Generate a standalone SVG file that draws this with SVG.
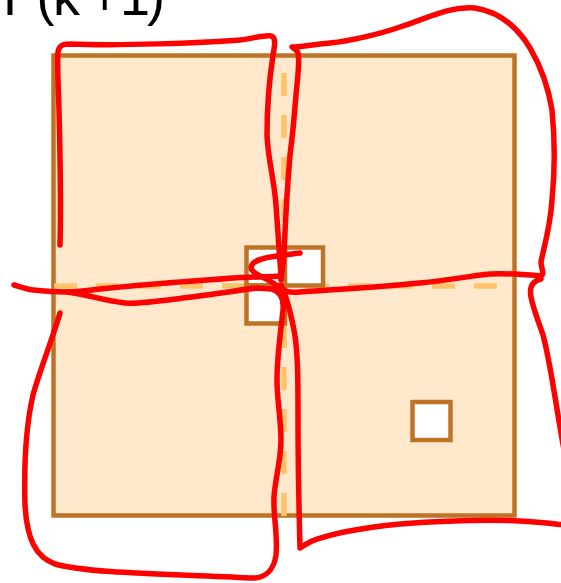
<svg xmlns="http://www.w3.org/2000/svg" width="561" height="583" viewBox="0 0 561 583">
<style>
.box{fill:#FFE8CC;stroke:#BF7326;stroke-width:4.5}
.cell{fill:#FFFFFF;stroke:#BF7326;stroke-width:4.5}
.dash{stroke:#FFC46A;stroke-width:5.5;stroke-dasharray:23 19;fill:none}
.ink{fill:none;stroke:#FF0000;stroke-width:5.5;stroke-linecap:round;stroke-linejoin:round}
.lbl{font-family:"Liberation Sans",Arial,sans-serif;font-size:54px;fill:#000}
</style>
<rect width="561" height="583" fill="#FFFFFF"/>
<text class="lbl" x="-6.5 36.5 53 89 120 147" y="15">T(k+1)</text>
<g id="region">
<rect class="box" x="53.5" y="55.5" width="461" height="460"/>
<line class="dash" x1="284" y1="73" x2="284" y2="516"/>
<line class="dash" x1="54" y1="286" x2="497" y2="286"/>
</g>
<g id="cell-a"><rect class="cell" x="246.5" y="247.5" width="38.5" height="38"/></g>
<g id="cell-b"><rect class="cell" x="285" y="247.5" width="38" height="38"/></g>
<g id="cell-c"><rect class="cell" x="246.5" y="285.5" width="38.5" height="38"/></g>
<g id="cell-d"><rect class="cell" x="412.5" y="402" width="38" height="38"/></g>
<g id="connectors">
<path class="ink" d="M60,245 C61,210 60,150 59,110 C58,80 57,60 58,52 C59,46 62,44 70,44 C120,46 200,43 240,40 C255,38 265,35 271,36 C276,37 275,45 273,55 C270,75 267,105 267,135 C268,160 274,178 276,205 C278,235 280,260 281,276 C270,277 250,277 233,278 C210,280 190,281 167,283 C140,285 120,287 100,289 C85,291 75,292 67,292 C55,292 42,291 33,290 C25,289 18,286 14,285"/>
<path class="ink" d="M60,313 C52,340 40,370 33,395 C25,430 24,470 25,505 C27,540 36,557 55,564 C90,574 180,574 250,578 C265,579 274,570 276,555 C278,535 273,515 274,497 C275,480 281,460 281,440 C281,420 277,400 277,380 C277,355 281,330 283,310 C284,300 282,292 272,289 L257,288 C240,290 210,295 183,298 C160,301 140,304 125,303 C105,301 85,294 67,292"/>
<path class="ink" d="M300,253 C285,255 270,256 262,259 C251,262 248,268 255,273 C263,278 272,281 280,288 C284,292 290,293 300,292 C330,290 380,287 420,283 C450,280 470,276 490,274 C510,273 530,275 541,276 C545,274 541,268 541,262 C543,250 550,230 552,200 C555,170 555,140 552,110 C548,85 540,65 530,48 C518,28 500,12 475,8 C450,6 430,17 400,27 C380,34 350,41 330,43 C310,45 298,47 292,47 C295,49 297,50 298,53 C300,60 298,75 296,95 C294,120 292,140 290,155 C287,190 285,230 284,255 C283,265 282,272 281,280"/>
<path class="ink" d="M281,285 C286,295 290,310 294,330 C298,350 298,380 298,420 C298,470 299,510 300,548 C303,546 306,544 312,541 C330,534 360,528 400,524 C440,521 480,519 520,521 C540,522 555,524 565,525"/>
<path class="ink" d="M541,279 C533,281 529,286 531,297 C533,308 538,320 543,335 C550,360 555,400 564,450"/>
</g>
</svg>
